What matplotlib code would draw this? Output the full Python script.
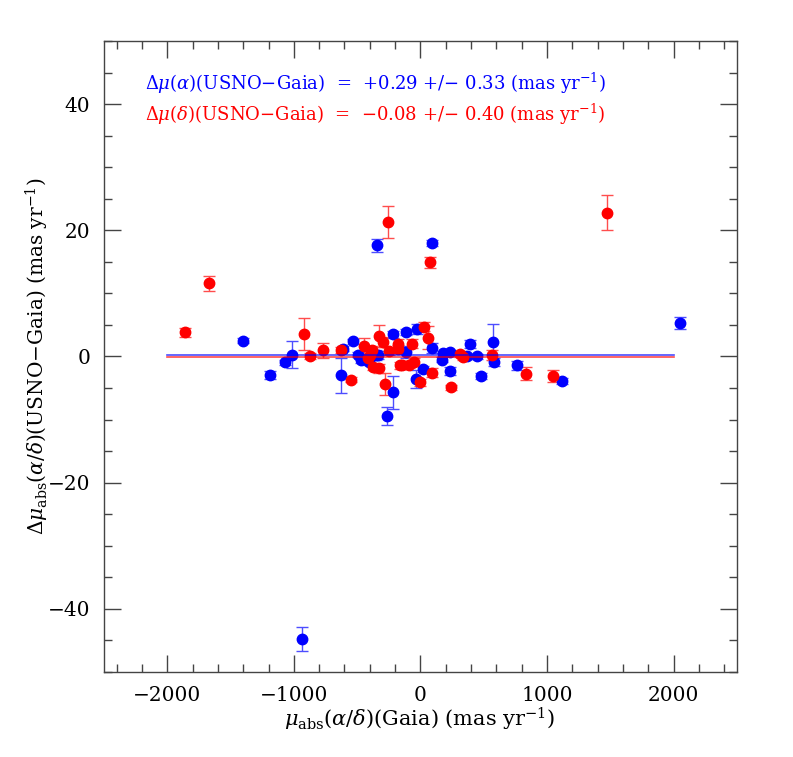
import matplotlib
matplotlib.use("Agg")
import matplotlib.pyplot as plt
from matplotlib.ticker import MultipleLocator

plt.rcParams['font.family'] = ['DejaVu Serif']
plt.rcParams['mathtext.fontset'] = 'dejavuserif'

# proper motion differences vs. Gaia proper motion (mas/yr)
ra_x = [-1399, -1191, -1071, -1013, -934, -624, -608, -529, -497, -471,
        -405, -343, -333, -352, -219, -219, -265, -113, -113, -26,
        -34, 19, 93, 93, 170, 178, 230, 230, 371, 389,
        447, 476, 574, 579, 765, 1122, 2051]
ra_y = [2.5, -2.9, -0.9, 0.3, -44.8, -3.0, 1.2, 2.4, 0.3, -0.6,
        -0.8, 17.6, 0.2, 0.3, 3.5, -5.7, -9.4, 3.9, 0.7, 4.3,
        -3.6, -2.0, 1.4, 18.0, -0.5, 0.5, 0.7, -2.3, 0.05, 2.0,
        0.05, -3.1, 2.3, -0.9, -1.4, -3.9, 5.3]
ra_err = [0.4, 0.6, 0.4, 2.2, 1.9, 2.8, 0.4, 0.4, 0.4, 0.5,
          0.5, 1.0, 0.6, 0.8, 0.5, 2.6, 1.4, 0.5, 1.0, 0.8,
          1.4, 0.5, 0.8, 0.5, 0.4, 0.4, 0.4, 0.6, 0.4, 0.6,
          0.4, 0.5, 2.9, 0.6, 0.7, 0.5, 0.9]

dec_x = [-1860, -1669, -921, -870, -772, -629, -547, -444, -413, -397,
         -383, -378, -330, -325, -298, -278, -259, -246, -180, -175,
         -164, -145, -87, -68, -48, -7, 27, 63, 79, 93,
         244, 310, 336, 567, 831, 1051, 1476]
dec_y = [3.8, 11.6, 3.6, 0.1, 1.0, 1.0, -3.7, 1.6, -0.3, 0.3,
         1.1, -1.6, -1.9, 3.2, 2.3, -4.4, 21.3, 0.8, 1.2, 2.0,
         -1.4, -1.4, -1.3, 2.0, -0.9, -4.1, 4.7, 3.0, 14.9, -2.6,
         -4.9, 0.4, -0.1, 0.3, -2.7, -3.1, 22.8]
dec_err = [0.7, 1.2, 2.5, 0.5, 1.2, 0.5, 0.4, 1.3, 0.6, 0.6,
           0.6, 0.6, 0.7, 1.75, 0.8, 1.75, 2.6, 0.5, 0.6, 0.7,
           0.6, 0.6, 0.6, 0.7, 0.6, 0.6, 0.7, 1.75, 0.9, 0.7,
           0.4, 0.5, 0.5, 0.8, 1.0, 0.9, 2.8]

mean_ra = 0.29
mean_dec = -0.08
line_x = [-2000, 2000]

fig = plt.figure(figsize=(7.93, 7.57), dpi=100)
ax = fig.add_axes([0.1311, 0.1123, 0.7982, 0.8336])

ax.errorbar(ra_x, ra_y, yerr=ra_err, fmt='o', color='blue', ms=7.5,
            ecolor=(0.3, 0.3, 1.0), elinewidth=1.0, capsize=4, capthick=1.0, zorder=3)
ax.errorbar(dec_x, dec_y, yerr=dec_err, fmt='o', color='red', ms=7.5,
            ecolor=(1.0, 0.3, 0.3), elinewidth=1.0, capsize=4, capthick=1.0, zorder=3)

ax.plot(line_x, [mean_ra, mean_ra], color='blue', lw=1.2, alpha=0.7, zorder=4)
ax.plot(line_x, [mean_dec, mean_dec], color='red', lw=1.2, alpha=0.7, zorder=4)

ax.set_xlim(-2500, 2500)
ax.set_ylim(-50, 50)
ax.xaxis.set_major_locator(MultipleLocator(1000))
ax.xaxis.set_minor_locator(MultipleLocator(200))
ax.yaxis.set_major_locator(MultipleLocator(20))
ax.yaxis.set_minor_locator(MultipleLocator(5))
ax.tick_params(which='both', direction='in', top=True, right=True,
               color='#444444', labelsize=14.5, pad=10)
ax.tick_params(which='major', length=12, width=1.0)
ax.tick_params(which='minor', length=6, width=1.0)
for s in ax.spines.values():
    s.set_color('#444444')
    s.set_linewidth(1.0)

ax.set_xlabel(r'$\mu_{\rm abs}(\alpha/\delta)$(Gaia) (mas yr$^{-1}$)', fontsize=15)
ax.set_ylabel(r'$\Delta\mu_{\rm abs}(\alpha/\delta)$(USNO$-$Gaia) (mas yr$^{-1}$)', fontsize=14.5)
ax.xaxis.set_label_coords(0.499, -0.053)
ax.yaxis.set_label_coords(-0.083, 0.5)

ax.text(-2177, 43.3, r'$\Delta\mu(\alpha)$(USNO$-$Gaia)  =  +0.29 +/$-$ 0.33 (mas yr$^{-1}$)',
        color='blue', fontsize=13, va='center', ha='left')
ax.text(-2177, 38.3, r'$\Delta\mu(\delta)$(USNO$-$Gaia)  =  $-$0.08 +/$-$ 0.40 (mas yr$^{-1}$)',
        color='red', fontsize=13, va='center', ha='left')

fig.savefig('out.png', dpi=100)
